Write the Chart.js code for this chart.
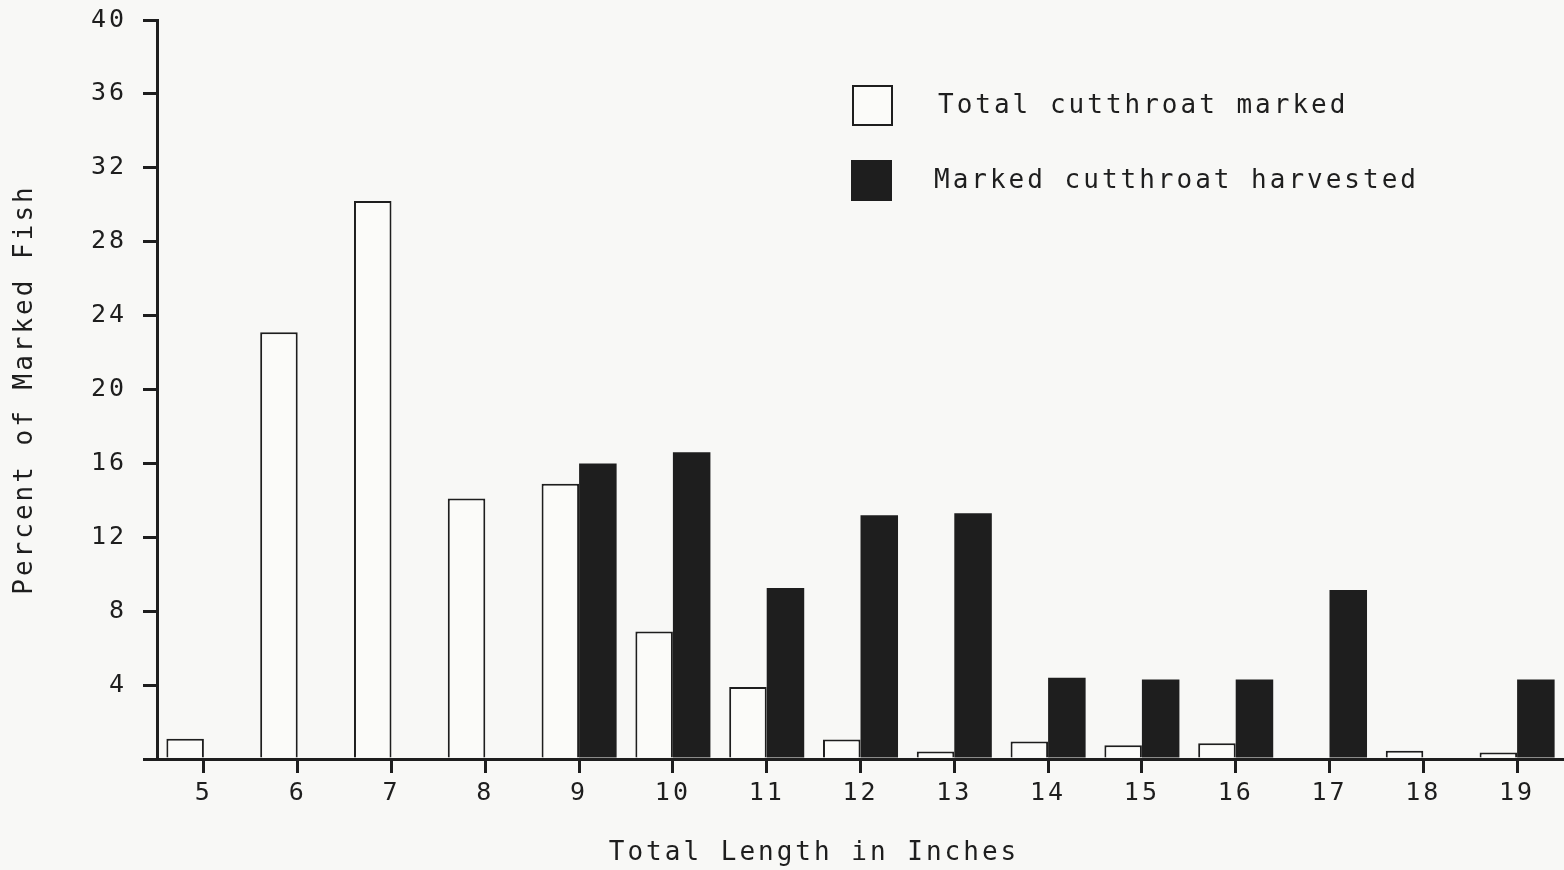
<!DOCTYPE html>
<html>
<head>
<meta charset="utf-8">
<title>Cutthroat length distribution</title>
<script src="https://cdn.jsdelivr.net/npm/chart.js@4.4.0/dist/chart.umd.min.js"></script>
<style>
    html, body { margin: 0; padding: 0; background: #f8f8f6; }
    #wrap { width: 1564px; height: 870px; }
</style>
</head>
<body>
<div id="wrap"><canvas id="fishChart" width="1564" height="870"></canvas></div>
<script>
// Length classes (inches)
const lengths = ['5', '6', '7', '8', '9', '10', '11', '12', '13', '14', '15', '16', '17', '18', '19'];

// Percent of marked fish
const totalMarked = [1.1, 23.1, 30.2, 14.1, 14.9, 6.9, 3.9, 1.05, 0.4, 0.95, 0.75, 0.85, 0, 0.45, 0.35];
const harvested   = [0, 0, 0, 0, 16.0, 16.6, 9.25, 13.2, 13.3, 4.4, 4.3, 4.3, 9.15, 0, 4.3];

// Y tick values
const yTicks = [0, 4, 8, 12, 16, 20, 24, 28, 32, 36, 40];

const xTitle = 'Total Length in Inches';

const INK = '#1e1e1e';
const PAPER = '#f8f8f6';
const FONT = "'DejaVu Sans Mono', monospace";

// Lettering-template look: wide letter spacing on every text
const spacingPlugin = {
    id: 'spacing',
    beforeUpdate(chart) { chart.ctx.letterSpacing = '3px'; },
    beforeDraw(chart) {
        const ctx = chart.ctx;
        ctx.letterSpacing = '3px';
        ctx.save();
        ctx.fillStyle = PAPER;
        ctx.fillRect(0, 0, chart.width, chart.height);
        ctx.restore();
    }
};

// Legend stacked inside the plot, and the x title sitting a bit left of centre
const boxLegend = {
    id: 'boxLegend',
    afterDraw(chart) {
        const ctx = chart.ctx;
        const rows = [{ x: 852, y: 85 }, { x: 851, y: 160 }];
        ctx.save();
        ctx.letterSpacing = '3px';
        ctx.font = `26px ${FONT}`;
        ctx.textBaseline = 'middle';
        chart.data.datasets.forEach((ds, i) => {
            const r = rows[i];
            ctx.fillStyle = ds.backgroundColor;
            ctx.fillRect(r.x, r.y, 41, 41);
            if (ds.borderWidth) {
                ctx.strokeStyle = ds.borderColor;
                ctx.lineWidth = 2;
                ctx.strokeRect(r.x + 1, r.y + 1, 39, 39);
            }
            ctx.fillStyle = INK;
            ctx.fillText(ds.label, i === 0 ? 938 : 934, r.y + 21);
        });

        ctx.textAlign = 'center';
        ctx.fillText(xTitle, 814, 853);
        ctx.restore();
    }
};

const ctx = document.getElementById('fishChart');

new Chart(ctx.getContext('2d'), {
    type: 'bar',
    data: {
        labels: lengths,
        datasets: [{
            label: 'Total cutthroat marked',
            data: totalMarked,
            backgroundColor: '#fbfbf9',
            borderColor: INK,
            borderWidth: 2,
            borderSkipped: 'bottom'
        }, {
            label: 'Marked cutthroat harvested',
            data: harvested,
            backgroundColor: INK,
            borderWidth: 0
        }]
    },
    options: {
        responsive: false,
        animation: false,
        categoryPercentage: 0.8,
        barPercentage: 1.0,
        layout: {
            padding: { top: 20, right: 0, bottom: 0, left: 0 }
        },
        plugins: {
            legend: { display: false },
            tooltip: { enabled: false }
        },
        scales: {
            x: {
                grid: {
                    offset: false,
                    drawOnChartArea: false,
                    drawTicks: true,
                    tickLength: 14,
                    lineWidth: 3,
                    color: INK
                },
                border: { display: true, width: 3, color: INK },
                ticks: {
                    color: INK,
                    padding: 5,
                    maxRotation: 0,
                    font: { family: FONT, size: 25 }
                },
                afterFit(scale) { scale.height = 111; }
            },
            y: {
                min: 0,
                max: 40,
                afterBuildTicks(scale) {
                    scale.ticks = yTicks.map(v => ({ value: v }));
                },
                grid: {
                    drawOnChartArea: false,
                    drawTicks: true,
                    tickLength: 14,
                    lineWidth: 3,
                    color: INK
                },
                border: { display: true, width: 3, color: INK },
                ticks: {
                    color: INK,
                    padding: 16,
                    font: { family: FONT, size: 25 },
                    callback: v => (v === 0 ? '' : v)
                },
                title: {
                    display: true,
                    text: 'Percent of Marked Fish',
                    color: INK,
                    font: { family: FONT, size: 26 },
                    padding: { top: 10, bottom: 0 }
                },
                afterFit(scale) {
                    scale.width = 157;
                    scale.paddingTop = 0;
                    scale.paddingBottom = 0;
                }
            }
        }
    },
    plugins: [spacingPlugin, boxLegend]
});
</script>
</body>
</html>
